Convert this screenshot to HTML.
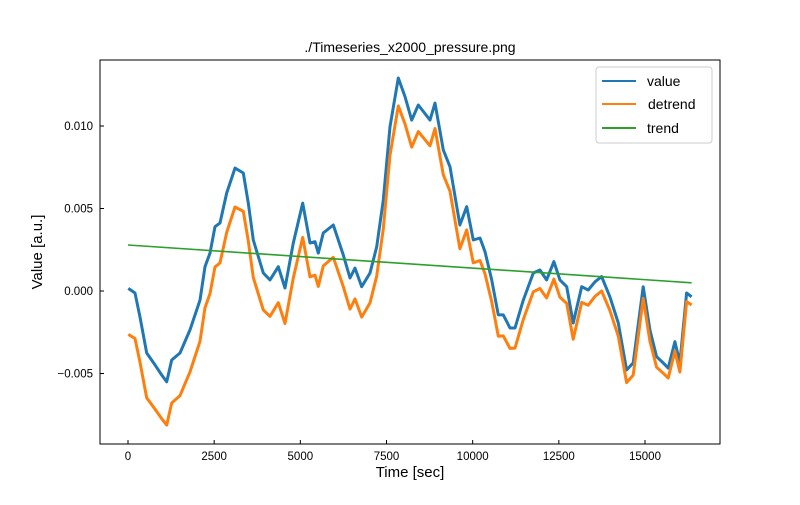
<!DOCTYPE html>
<html><head><meta charset="utf-8"><style>
body{margin:0;background:#fff}
svg text{font-family:"Liberation Sans","DejaVu Sans",sans-serif}
</style></head><body>
<svg id="chart" width="800" height="500" xmlns="http://www.w3.org/2000/svg">
<rect width="800" height="500" fill="#fff"/>
<text x="410" y="52" font-size="14" text-anchor="middle">./Timeseries_x2000_pressure.png</text>
<g id="plot"></g>
<rect x="100" y="60" width="620" height="384" fill="none" stroke="#000" stroke-width="1"/>
<g id="xt"></g>
<g id="yt"></g>
<text x="410" y="477" font-size="15" text-anchor="middle">Time [sec]</text>
<text transform="translate(42,252) rotate(-90)" font-size="15" text-anchor="middle">Value [a.u.]</text>
<g>
<rect x="596" y="67" width="116" height="76" rx="3" fill="#fff" stroke="#ccc"/>
<line x1="602" y1="81" x2="636" y2="81" stroke="#1f77b4" stroke-width="2"/>
<text x="647" y="86" font-size="14">value</text>
<line x1="602" y1="104" x2="636" y2="104" stroke="#ff7f0e" stroke-width="2"/>
<text x="648" y="109" font-size="14">detrend</text>
<line x1="602" y1="128" x2="636" y2="128" stroke="#2ca02c" stroke-width="2"/>
<text x="647" y="133" font-size="14">trend</text>
</g>
</svg>
<script>
const times=[10,203,348,542,783,978,1123,1268,1509,1799,2089,2234,2379,2524,2669,2863,3104,3345,3490,3635,3925,4119,4360,4555,4795,5068,5280,5425,5521,5666,5956,6246,6440,6585,6780,7020,7215,7406,7601,7841,8036,8230,8422,8761,8906,9147,9341,9631,9826,10017,10212,10357,10551,10743,10888,11082,11227,11468,11758,11952,12146,12358,12532,12727,12918,13162,13353,13548,13742,13983,14224,14467,14658,14949,15143,15337,15529,15674,15868,16013,16208,16353];
const valueSeries=[0.00016,-0.00012,-0.00158,-0.00376,-0.00448,-0.00509,-0.00550,-0.00418,-0.00376,-0.00236,-0.00055,0.00147,0.00230,0.00390,0.00412,0.00594,0.00745,0.00715,0.00533,0.00309,0.00109,0.00067,0.00147,0.00018,0.00291,0.00533,0.00291,0.00299,0.00230,0.00352,0.00400,0.00218,0.00079,0.00139,0.00026,0.00109,0.00268,0.00552,0.00996,0.01291,0.01178,0.01036,0.01127,0.01036,0.01139,0.00855,0.00753,0.00400,0.00511,0.00309,0.00321,0.00238,0.00067,-0.00145,-0.00145,-0.00224,-0.00224,-0.00055,0.00109,0.00127,0.00067,0.00178,0.00067,0.00026,-0.00194,0.00026,0.00006,0.00056,0.00087,-0.00035,-0.00194,-0.00479,-0.00436,0.00026,-0.00236,-0.00398,-0.00436,-0.00467,-0.00307,-0.00436,-0.00012,-0.00035];
const detrendSeries=[-0.00263,-0.00288,-0.00432,-0.00647,-0.00716,-0.00774,-0.00813,-0.00679,-0.00634,-0.00490,-0.00305,-0.00101,-0.00016,0.00146,0.00170,0.00355,0.00509,0.00483,0.00303,0.00081,-0.00115,-0.00154,-0.00071,-0.00197,0.00079,0.00325,0.00086,0.00096,0.00028,0.00152,0.00204,0.00026,-0.00110,-0.00048,-0.00158,-0.00072,0.00090,0.00377,0.00823,0.01122,0.01012,0.00872,0.00966,0.00880,0.00985,0.00704,0.00605,0.00256,0.00370,0.00170,0.00185,0.00104,-0.00064,-0.00274,-0.00272,-0.00348,-0.00346,-0.00173,-0.00005,0.00015,-0.00042,0.00072,-0.00037,-0.00075,-0.00292,-0.00069,-0.00086,-0.00033,0.00000,-0.00118,-0.00274,-0.00555,-0.00510,-0.00044,-0.00303,-0.00462,-0.00498,-0.00527,-0.00364,-0.00491,-0.00064,-0.00085];
const trendTimes=[0,16353];
const trendSeries=[0.00279,0.00050];
const xTicks=[0,2500,5000,7500,10000,12500,15000];
const xTickLabels=["0","2500","5000","7500","10000","12500","15000"];
const yTicks=[-0.005,0,0.005,0.01];
const yTickLabels=["−0.005","0.000","0.005","0.010"];

const NS="http://www.w3.org/2000/svg";
const X=t=>128+t*(517/15000);
const Y=v=>291-v*16500;
function mk(tag,attrs,parent){const e=document.createElementNS(NS,tag);for(const k in attrs)e.setAttribute(k,attrs[k]);parent.appendChild(e);return e;}
const plot=document.getElementById('plot');
function line(ts,vs,color,w,name){
  const d=ts.map((t,i)=>(i?'L':'M')+X(t).toFixed(1)+','+Y(vs[i]).toFixed(1)).join(' ');
  const p=mk('path',{d:d,fill:'none',stroke:color,'stroke-width':w,'stroke-linejoin':'round'},plot);
  
  
}
line(times,valueSeries,'#1f77b4',3,'value-line');
line(times,detrendSeries,'#ff7f0e',3,'detrend-line');
line(trendTimes,trendSeries,'#2ca02c',1.6,'trend-line');
const xt=document.getElementById('xt');
xTicks.forEach((t,i)=>{
  mk('line',{x1:X(t),x2:X(t),y1:444,y2:440,stroke:'#000'},xt);
  const tx=mk('text',{x:X(t),y:460,'font-size':11.5,'text-anchor':'middle'},xt);
  tx.textContent=xTickLabels[i];
  
  
});
const yt=document.getElementById('yt');
yTicks.forEach((v,i)=>{
  mk('line',{x1:100,x2:104,y1:Y(v),y2:Y(v),stroke:'#000'},yt);
  const tx=mk('text',{x:93,y:Y(v)+4,'font-size':11.5,'text-anchor':'end'},yt);
  tx.textContent=yTickLabels[i];
  
  
});
</script>
</body></html>
